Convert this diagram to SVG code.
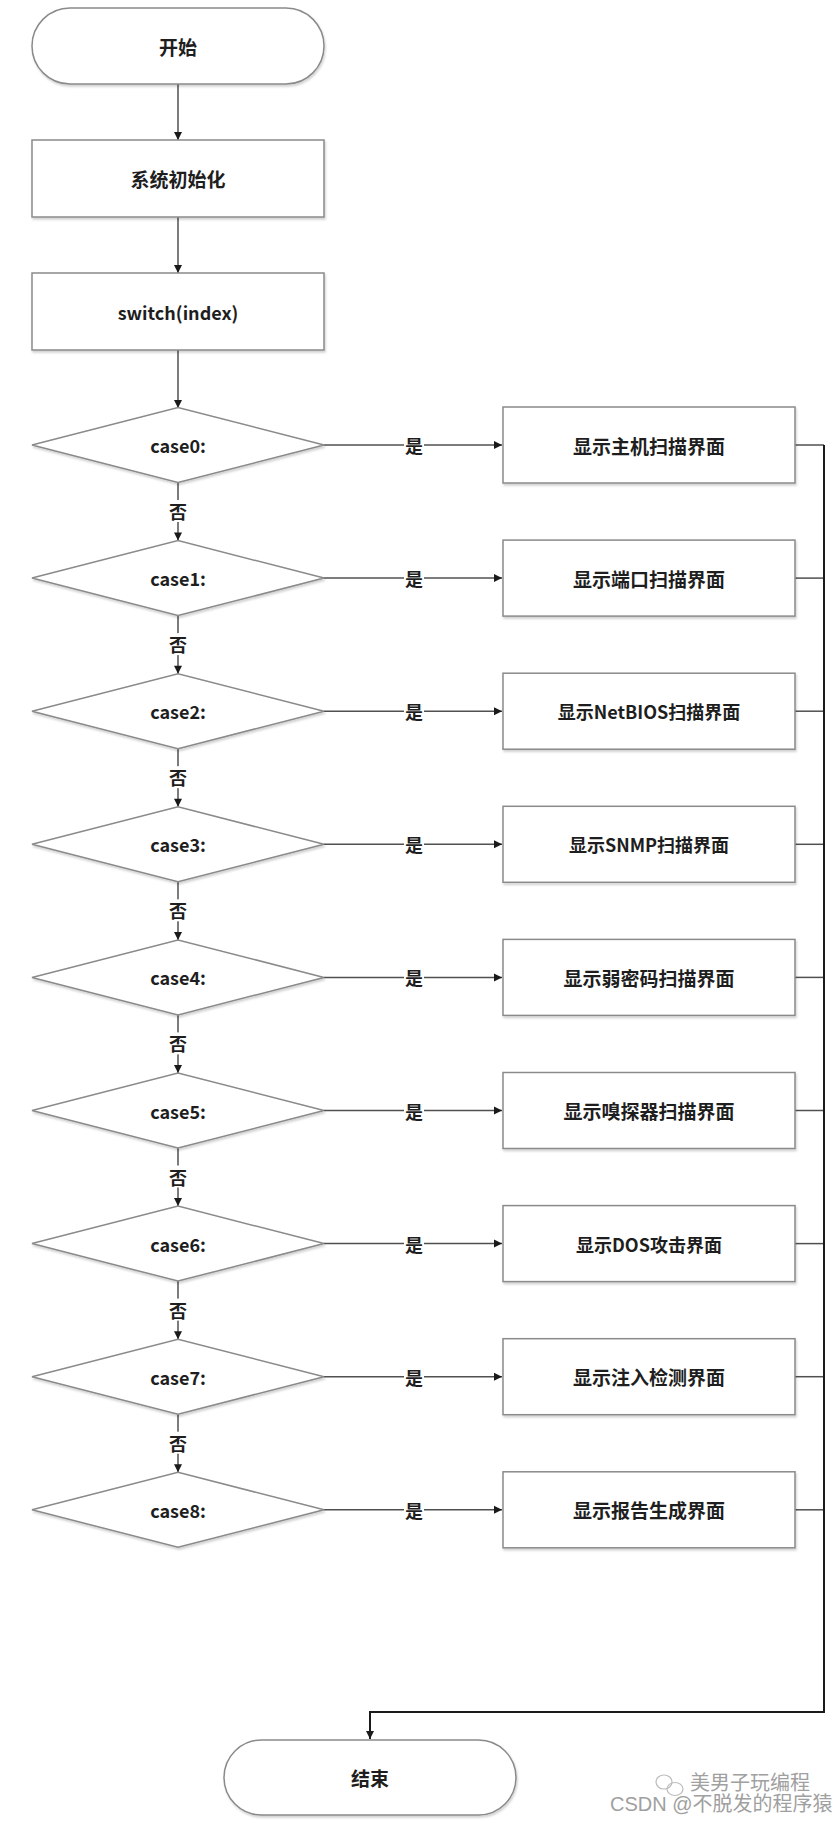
<svg xmlns="http://www.w3.org/2000/svg" width="835" height="1821" viewBox="0 0 835 1821">
<style>
.shape{fill:#fff;stroke:#8a8a8a;stroke-width:1.5;filter:url(#sh)}
.t{font-family:"Noto Sans CJK SC","Liberation Sans",sans-serif;font-weight:bold;font-size:18px;fill:#1e1e1e;text-anchor:middle;dominant-baseline:central}
.cj{font-size:19px}
.lbl{font-family:"Noto Sans CJK SC","Liberation Sans",sans-serif;font-weight:bold;font-size:18px;fill:#1e1e1e;text-anchor:middle;dominant-baseline:central}
.c{fill:none;stroke:#505050;stroke-width:1.5}
.bus{fill:none;stroke:#1a1a1a;stroke-width:2}
.wm{font-family:"Liberation Sans","Noto Sans CJK SC",sans-serif;fill:#a0a0a0;font-size:20px}
</style>
<defs>
<filter id="sh" x="-5%" y="-5%" width="110%" height="120%">
<feDropShadow dx="1" dy="2" stdDeviation="1" flood-color="#000" flood-opacity="0.18"/>
</filter>
<marker id="ar" markerWidth="10" markerHeight="10" refX="9" refY="5" orient="auto" markerUnits="userSpaceOnUse">
<path d="M1,1 L9,5 L1,9 Z" fill="#1a1a1a"/>
</marker>
</defs>
<rect width="835" height="1821" fill="#fff"/>

<g id="connectors">
<path class="c" d="M178,84 V140" marker-end="url(#ar)"/>
<path class="c" d="M178,217 V273" marker-end="url(#ar)"/>
<path class="c" d="M178,350 V408" marker-end="url(#ar)"/>
<path class="c" d="M324,445 H502" marker-end="url(#ar)"/>
<path class="c" d="M324,578.1 H502" marker-end="url(#ar)"/>
<path class="c" d="M324,711.2 H502" marker-end="url(#ar)"/>
<path class="c" d="M324,844.3 H502" marker-end="url(#ar)"/>
<path class="c" d="M324,977.4 H502" marker-end="url(#ar)"/>
<path class="c" d="M324,1110.5 H502" marker-end="url(#ar)"/>
<path class="c" d="M324,1243.6 H502" marker-end="url(#ar)"/>
<path class="c" d="M324,1376.7 H502" marker-end="url(#ar)"/>
<path class="c" d="M324,1509.8 H502" marker-end="url(#ar)"/>
<path class="c" d="M178,482.5 V540.6" marker-end="url(#ar)"/>
<path class="c" d="M178,615.6 V673.7" marker-end="url(#ar)"/>
<path class="c" d="M178,748.7 V806.8" marker-end="url(#ar)"/>
<path class="c" d="M178,881.8 V939.9" marker-end="url(#ar)"/>
<path class="c" d="M178,1014.9 V1073" marker-end="url(#ar)"/>
<path class="c" d="M178,1148 V1206.1" marker-end="url(#ar)"/>
<path class="c" d="M178,1281.1 V1339.2" marker-end="url(#ar)"/>
<path class="c" d="M178,1414.2 V1472.3" marker-end="url(#ar)"/>
<path class="c" d="M795,445 H824"/>
<path class="c" d="M795,578.1 H824"/>
<path class="c" d="M795,711.2 H824"/>
<path class="c" d="M795,844.3 H824"/>
<path class="c" d="M795,977.4 H824"/>
<path class="c" d="M795,1110.5 H824"/>
<path class="c" d="M795,1243.6 H824"/>
<path class="c" d="M795,1376.7 H824"/>
<path class="c" d="M795,1509.8 H824"/>
<path class="bus" d="M824,445 V1712 H370 V1739" marker-end="url(#ar)"/>
<g>
<rect x="404" y="434" width="20" height="22" fill="#fff"/><text class="lbl" x="414" y="445">是</text>
<rect x="404" y="567.1" width="20" height="22" fill="#fff"/><text class="lbl" x="414" y="578.1">是</text>
<rect x="404" y="700.2" width="20" height="22" fill="#fff"/><text class="lbl" x="414" y="711.2">是</text>
<rect x="404" y="833.3" width="20" height="22" fill="#fff"/><text class="lbl" x="414" y="844.3">是</text>
<rect x="404" y="966.4" width="20" height="22" fill="#fff"/><text class="lbl" x="414" y="977.4">是</text>
<rect x="404" y="1099.5" width="20" height="22" fill="#fff"/><text class="lbl" x="414" y="1110.5">是</text>
<rect x="404" y="1232.6" width="20" height="22" fill="#fff"/><text class="lbl" x="414" y="1243.6">是</text>
<rect x="404" y="1365.7" width="20" height="22" fill="#fff"/><text class="lbl" x="414" y="1376.7">是</text>
<rect x="404" y="1498.8" width="20" height="22" fill="#fff"/><text class="lbl" x="414" y="1509.8">是</text>
<rect x="168" y="500" width="20" height="22" fill="#fff"/><text class="lbl" x="178" y="511">否</text>
<rect x="168" y="633.1" width="20" height="22" fill="#fff"/><text class="lbl" x="178" y="644.1">否</text>
<rect x="168" y="766.2" width="20" height="22" fill="#fff"/><text class="lbl" x="178" y="777.2">否</text>
<rect x="168" y="899.3" width="20" height="22" fill="#fff"/><text class="lbl" x="178" y="910.3">否</text>
<rect x="168" y="1032.4" width="20" height="22" fill="#fff"/><text class="lbl" x="178" y="1043.4">否</text>
<rect x="168" y="1165.5" width="20" height="22" fill="#fff"/><text class="lbl" x="178" y="1176.5">否</text>
<rect x="168" y="1298.6" width="20" height="22" fill="#fff"/><text class="lbl" x="178" y="1309.6">否</text>
<rect x="168" y="1431.7" width="20" height="22" fill="#fff"/><text class="lbl" x="178" y="1442.7">否</text>
</g>
</g>

<g id="start"><rect class="shape" x="32" y="8" width="292" height="76" rx="38"/><text class="t cj" x="178" y="46">开始</text></g>
<g id="init"><rect class="shape" x="32" y="140" width="292" height="77"/><text class="t cj" x="178" y="178.5">系统初始化</text></g>
<g id="switch"><rect class="shape" x="32" y="273" width="292" height="77"/><text class="t" x="178" y="311.5">switch(index)</text></g>

<g id="case0"><polygon class="shape" points="32,445 178,407.5 324,445 178,482.5"/><text class="t" x="178" y="445">case0:</text></g>
<g id="case1"><polygon class="shape" points="32,578.1 178,540.6 324,578.1 178,615.6"/><text class="t" x="178" y="578.1">case1:</text></g>
<g id="case2"><polygon class="shape" points="32,711.2 178,673.7 324,711.2 178,748.7"/><text class="t" x="178" y="711.2">case2:</text></g>
<g id="case3"><polygon class="shape" points="32,844.3 178,806.8 324,844.3 178,881.8"/><text class="t" x="178" y="844.3">case3:</text></g>
<g id="case4"><polygon class="shape" points="32,977.4 178,939.9 324,977.4 178,1014.9"/><text class="t" x="178" y="977.4">case4:</text></g>
<g id="case5"><polygon class="shape" points="32,1110.5 178,1073 324,1110.5 178,1148"/><text class="t" x="178" y="1110.5">case5:</text></g>
<g id="case6"><polygon class="shape" points="32,1243.6 178,1206.1 324,1243.6 178,1281.1"/><text class="t" x="178" y="1243.6">case6:</text></g>
<g id="case7"><polygon class="shape" points="32,1376.7 178,1339.2 324,1376.7 178,1414.2"/><text class="t" x="178" y="1376.7">case7:</text></g>
<g id="case8"><polygon class="shape" points="32,1509.8 178,1472.3 324,1509.8 178,1547.3"/><text class="t" x="178" y="1509.8">case8:</text></g>

<g id="show0"><rect class="shape" x="503" y="407" width="292" height="76"/><text class="t cj" x="649" y="445">显示主机扫描界面</text></g>
<g id="show1"><rect class="shape" x="503" y="540.1" width="292" height="76"/><text class="t cj" x="649" y="578.1">显示端口扫描界面</text></g>
<g id="show2"><rect class="shape" x="503" y="673.2" width="292" height="76"/><text class="t" x="649" y="711.2">显示NetBIOS扫描界面</text></g>
<g id="show3"><rect class="shape" x="503" y="806.3" width="292" height="76"/><text class="t" x="649" y="844.3">显示SNMP扫描界面</text></g>
<g id="show4"><rect class="shape" x="503" y="939.4" width="292" height="76"/><text class="t cj" x="649" y="977.4">显示弱密码扫描界面</text></g>
<g id="show5"><rect class="shape" x="503" y="1072.5" width="292" height="76"/><text class="t cj" x="649" y="1110.5">显示嗅探器扫描界面</text></g>
<g id="show6"><rect class="shape" x="503" y="1205.6" width="292" height="76"/><text class="t" x="649" y="1243.6">显示DOS攻击界面</text></g>
<g id="show7"><rect class="shape" x="503" y="1338.7" width="292" height="76"/><text class="t cj" x="649" y="1376.7">显示注入检测界面</text></g>
<g id="show8"><rect class="shape" x="503" y="1471.8" width="292" height="76"/><text class="t cj" x="649" y="1509.8">显示报告生成界面</text></g>

<g id="end"><rect class="shape" x="224" y="1740" width="292" height="75" rx="37.5"/><text class="t cj" x="370" y="1777.5">结束</text></g>

<g id="watermark">
<ellipse cx="664" cy="1782" rx="8" ry="7" fill="none" stroke="#bdbdbd" stroke-width="1.2"/>
<ellipse cx="675" cy="1789" rx="8" ry="6.5" fill="none" stroke="#bdbdbd" stroke-width="1.2"/>
<text class="wm" x="690" y="1790" font-size="21">美男子玩编程</text>
<text class="wm" x="610" y="1811">CSDN @不脱发的程序猿</text>
</g>
</svg>
